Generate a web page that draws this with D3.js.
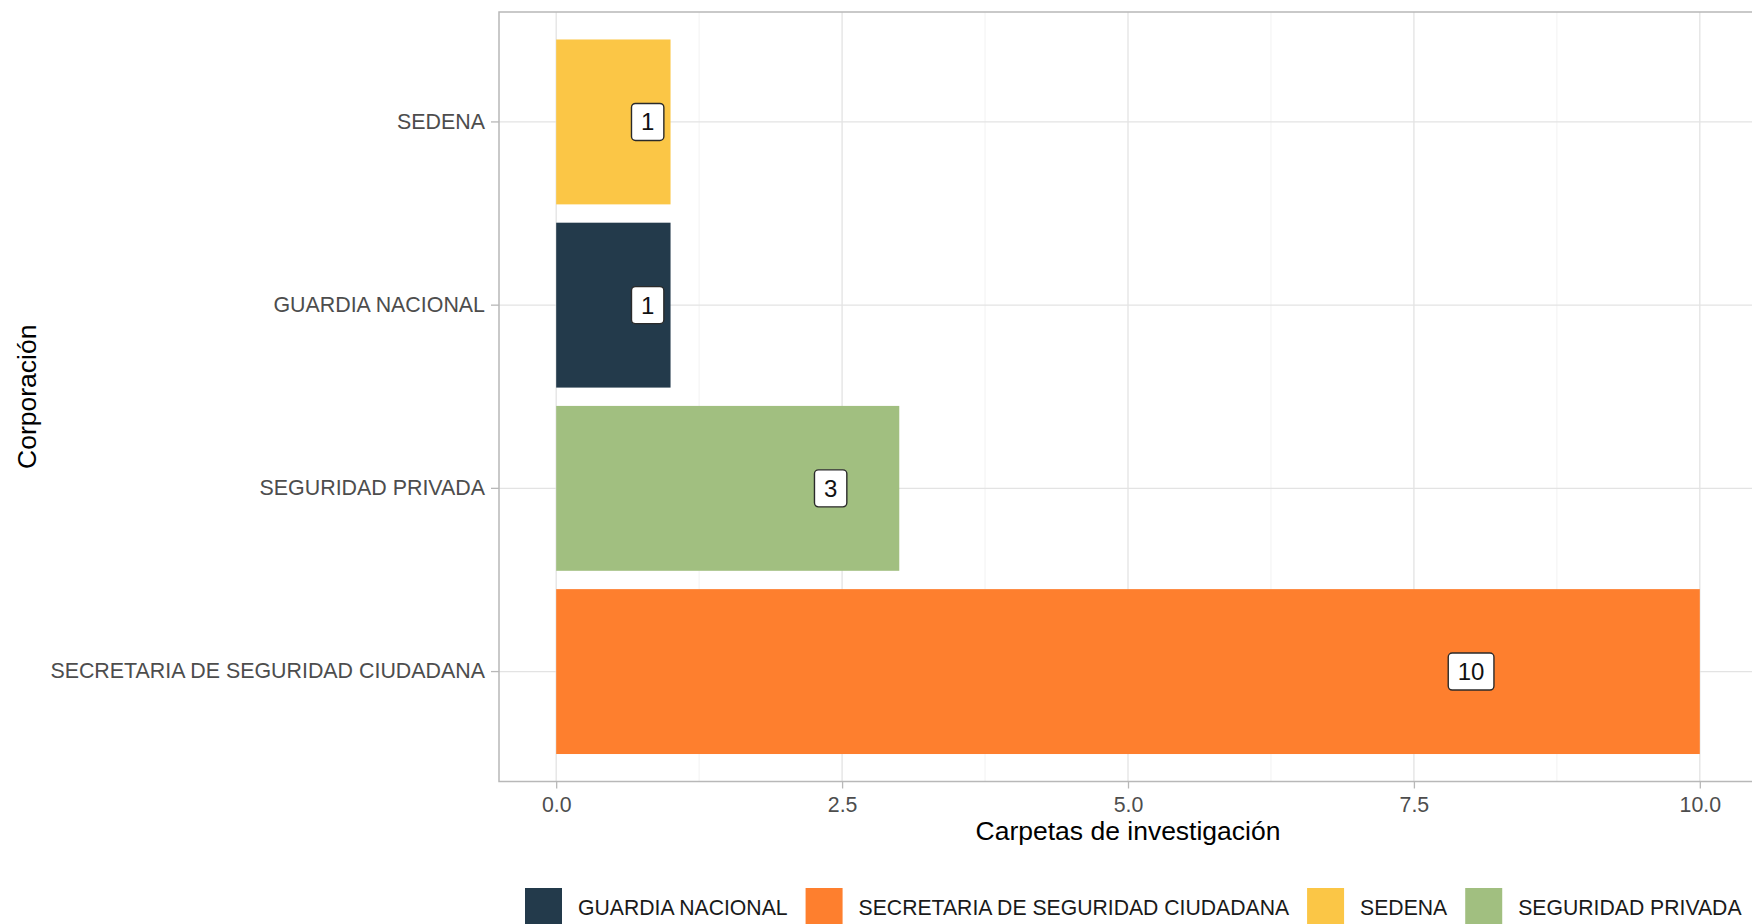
<!DOCTYPE html>
<html>
<head>
<meta charset="utf-8">
<script src="https://cdn.jsdelivr.net/npm/d3@7/dist/d3.min.js"></script>
<style>
  html, body { margin: 0; padding: 0; background: #ffffff; }
  svg { display: block; font-family: "Liberation Sans", Arial, Helvetica, sans-serif; }
</style>
</head>
<body>
<svg id="chart" width="1752" height="924"></svg>
<script>
// ---- data ----
const categories = ["SEDENA", "GUARDIA NACIONAL", "SEGURIDAD PRIVADA", "SECRETARIA DE SEGURIDAD CIUDADANA"];
const values = [1, 1, 3, 10];
const legendOrder = ["GUARDIA NACIONAL", "SECRETARIA DE SEGURIDAD CIUDADANA", "SEDENA", "SEGURIDAD PRIVADA"];
const legendColors = ["#233A4B", "#FE7F2E", "#FBC646", "#A1BF80"];
const xTicks = [0, 2.5, 5, 7.5, 10];
const xTickLabels = ["0.0", "2.5", "5.0", "7.5", "10.0"];
const xMinorTicks = [1.25, 3.75, 6.25, 8.75];
const xTitle = "Carpetas de investigación";
const yTitle = "Corporación";
const labelFraction = 0.8; // labels sit at 80% of bar length

const data = categories.map((c, i) => ({ cat: c, value: values[i] }));
const color = d3.scaleOrdinal().domain(legendOrder).range(legendColors);

const svg = d3.select("#chart");
const panel = { left: 499, right: 1757, top: 12, bottom: 781.5 };

const x = d3.scaleLinear().domain([-0.5, 10.5]).range([panel.left, panel.right]);
const y = d3.scaleBand().domain(categories).range([panel.top, panel.bottom])
  .paddingInner(0.1).paddingOuter(0.15);
const yc = c => y(c) + y.bandwidth() / 2;

// ---- grid ----
const g = svg.append("g");
g.selectAll("line.minor").data(xMinorTicks).join("line")
  .attr("x1", d => x(d)).attr("x2", d => x(d))
  .attr("y1", panel.top).attr("y2", panel.bottom)
  .attr("stroke", "#F2F2F2").attr("stroke-width", 1);
g.selectAll("line.major").data(xTicks).join("line")
  .attr("x1", d => x(d)).attr("x2", d => x(d))
  .attr("y1", panel.top).attr("y2", panel.bottom)
  .attr("stroke", "#E3E3E3").attr("stroke-width", 1.3);
g.selectAll("line.ygrid").data(categories).join("line")
  .attr("x1", panel.left).attr("x2", panel.right)
  .attr("y1", d => yc(d)).attr("y2", d => yc(d))
  .attr("stroke", "#E3E3E3").attr("stroke-width", 1.3);

// ---- bars ----
svg.append("g").selectAll("rect").data(data).join("rect")
  .attr("x", x(0))
  .attr("y", d => y(d.cat))
  .attr("width", d => x(d.value) - x(0))
  .attr("height", y.bandwidth())
  .attr("fill", d => color(d.cat));

// ---- panel border ----
svg.append("rect")
  .attr("x", panel.left).attr("y", panel.top)
  .attr("width", panel.right - panel.left).attr("height", panel.bottom - panel.top)
  .attr("fill", "none").attr("stroke", "#B8B8B8").attr("stroke-width", 1.5);

// ---- value labels ----
const lab = svg.append("g").selectAll("g").data(data).join("g")
  .attr("transform", d => `translate(${x(d.value * labelFraction)},${yc(d.cat)})`);
lab.append("text")
  .attr("text-anchor", "middle")
  .attr("y", 8.5)
  .attr("font-size", 24)
  .attr("fill", "#111111")
  .text(d => d.value);
lab.each(function() {
  const t = d3.select(this).select("text");
  const w = t.node().getComputedTextLength();
  d3.select(this).insert("rect", "text")
    .attr("x", -w / 2 - 9.5).attr("y", -18.5)
    .attr("width", w + 19).attr("height", 37)
    .attr("rx", 4).attr("ry", 4)
    .attr("fill", "#ffffff").attr("stroke", "#2a2a2a").attr("stroke-width", 1.4);
});

// ---- x axis ----
const xAxis = svg.append("g")
  .attr("transform", `translate(0,${panel.bottom})`)
  .call(d3.axisBottom(x).tickValues(xTicks).tickFormat((d, i) => xTickLabels[i]).tickSize(7).tickPadding(8));
xAxis.select(".domain").remove();
xAxis.selectAll(".tick line").attr("stroke", "#B8B8B8").attr("stroke-width", 1.3);
xAxis.selectAll(".tick text").attr("font-size", 21.3).attr("fill", "#4D4D4D")
  .attr("font-family", "Liberation Sans, Arial, sans-serif");

// ---- y axis ----
const yAxis = svg.append("g")
  .attr("transform", `translate(${panel.left},0)`)
  .call(d3.axisLeft(y).tickSize(8).tickPadding(6));
yAxis.select(".domain").remove();
yAxis.selectAll(".tick line").attr("stroke", "#B8B8B8").attr("stroke-width", 1.3);
yAxis.selectAll(".tick text").attr("font-size", 21.4).attr("fill", "#4D4D4D")
  .attr("font-family", "Liberation Sans, Arial, sans-serif");

// ---- titles ----
svg.append("text")
  .attr("x", (panel.left + panel.right) / 2).attr("y", 840)
  .attr("text-anchor", "middle").attr("font-size", 26.5).attr("fill", "#000")
  .text(xTitle);
svg.append("text")
  .attr("transform", `translate(36,${(panel.top + panel.bottom) / 2}) rotate(-90)`)
  .attr("text-anchor", "middle").attr("font-size", 26.5).attr("fill", "#000")
  .text(yTitle);

// ---- legend ----
const leg = svg.append("g").attr("transform", "translate(525,888)");
let cx = 0;
legendOrder.forEach((name, i) => {
  const item = leg.append("g").attr("transform", `translate(${cx},0)`);
  item.append("rect").attr("width", 37).attr("height", 37).attr("fill", legendColors[i]);
  const t = item.append("text").attr("x", 53).attr("y", 26.5)
    .attr("font-size", 21.2).attr("fill", "#1a1a1a").text(name);
  const w = t.node().getComputedTextLength();
  cx += 53 + w + 18;
});
</script>
</body>
</html>
